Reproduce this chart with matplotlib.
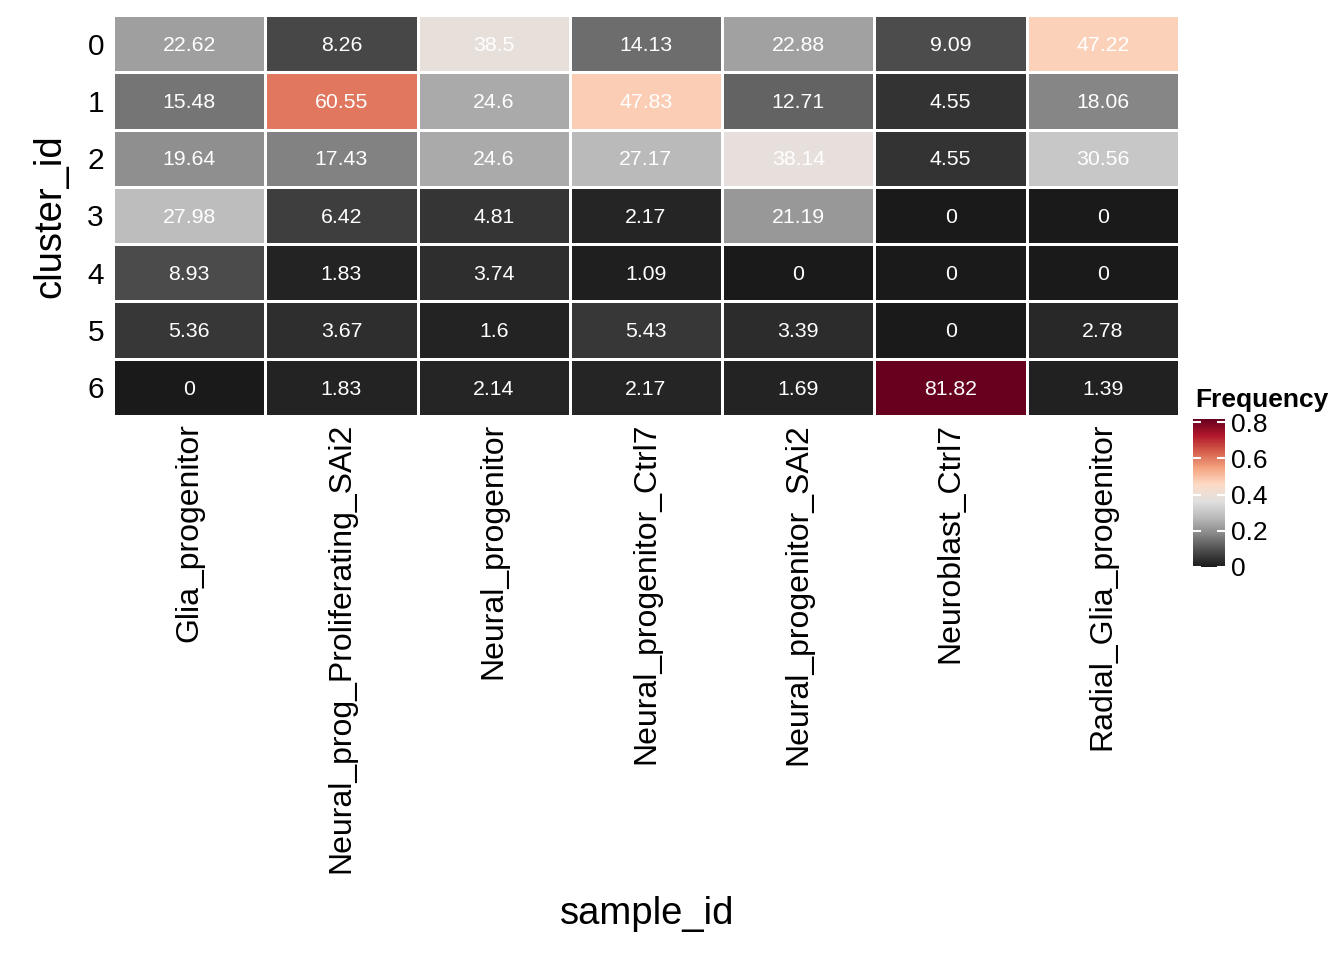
import numpy as np
import matplotlib
matplotlib.use('Agg')
import matplotlib.pyplot as plt
from matplotlib.colors import LinearSegmentedColormap, Normalize

plt.rcParams['font.family'] = ['Liberation Sans', 'DejaVu Sans']

# cluster x sample frequencies (percent)
samples = ['Glia_progenitor', 'Neural_prog_Proliferating_SAi2', 'Neural_progenitor',
           'Neural_progenitor_Ctrl7', 'Neural_progenitor_SAi2', 'Neuroblast_Ctrl7',
           'Radial_Glia_progenitor']
clusters = ['0', '1', '2', '3', '4', '5', '6']
freq = [
    [22.62, 8.26, 38.5, 14.13, 22.88, 9.09, 47.22],
    [15.48, 60.55, 24.6, 47.83, 12.71, 4.55, 18.06],
    [19.64, 17.43, 24.6, 27.17, 38.14, 4.55, 30.56],
    [27.98, 6.42, 4.81, 2.17, 21.19, 0, 0],
    [8.93, 1.83, 3.74, 1.09, 0, 0, 0],
    [5.36, 3.67, 1.6, 5.43, 3.39, 0, 2.78],
    [0, 1.83, 2.14, 2.17, 1.69, 81.82, 1.39],
]
cbar_ticks = [0, 0.2, 0.4, 0.6, 0.8]
cbar_labels = ['0', '0.2', '0.4', '0.6', '0.8']

colors = ['#1a1a1a', '#4d4d4d', '#878787', '#bababa', '#e0e0e0',
          '#fddbc7', '#f4a582', '#d6604d', '#b2182b', '#67001f']
cmap = LinearSegmentedColormap.from_list('rdgy_nowhite', colors)

vals = np.array(freq) / 100.0
norm = Normalize(vmin=0, vmax=vals.max())

fig = plt.figure(figsize=(13.44, 9.6), dpi=100)
ax = fig.add_axes([113 / 1344, 1 - 416 / 960, (1179 - 113) / 1344, (416 - 15) / 960])

mesh = ax.pcolormesh(vals, cmap=cmap, norm=norm, edgecolors='white', linewidth=1.0)
ax.set_xlim(0, len(samples))
ax.set_ylim(len(clusters), 0)

for i in range(len(clusters)):
    for j in range(len(samples)):
        ax.text(j + 0.5, i + 0.53, '{:g}'.format(freq[i][j]), ha='center', va='center',
                color='white', fontsize=15.3)

ax.set_xticks(np.arange(len(samples)) + 0.5)
ax.set_xticklabels(samples, rotation=90, fontsize=23)
ax.set_yticks(np.arange(len(clusters)) + 0.5)
ax.set_yticklabels(clusters, fontsize=21.5)
ax.tick_params(axis='x', length=0, pad=5)
ax.tick_params(axis='y', length=0, pad=6.5)
for s in ax.spines.values():
    s.set_visible(False)

fig.text(647 / 1344, 1 - 914 / 960, 'sample_id', ha='center', va='center', fontsize=27.5)
fig.text(50 / 1344, 1 - 216 / 960, 'cluster_id', ha='center', va='center', fontsize=27.5,
         rotation=90)

# colour bar
top_px, zero_px = 419, 567
cax = fig.add_axes([1193 / 1344, 1 - zero_px / 960, 32 / 1344, (zero_px - top_px) / 960])
cbar = fig.colorbar(mesh, cax=cax)
cbar.outline.set_visible(False)
cbar.set_ticks(cbar_ticks)
cbar.set_ticklabels(cbar_labels)
cax.tick_params(direction='in', colors='white', length=6, width=1.5,
                left=True, right=True, labelleft=False, labelright=True,
                labelsize=19, labelcolor='black', pad=4)
fig.text(1195 / 1344, 1 - 400 / 960, 'Frequency', ha='left', va='center',
         fontsize=19, fontweight='bold')

fig.savefig('out.png', dpi=100)
